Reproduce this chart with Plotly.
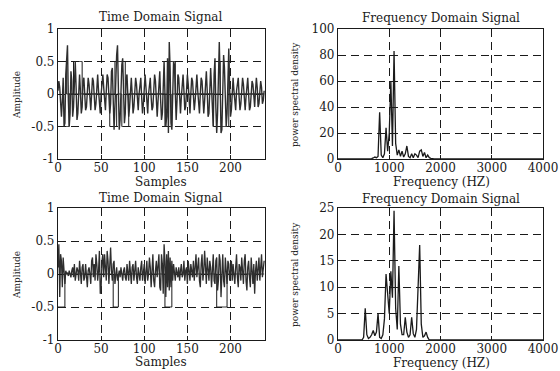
import plotly.graph_objects as go

# ---------------- data ----------------
samples_top = [
    0.05, 0.2, 0.1, -0.2, -0.35, -0.1, 0.25, -0.5,
    -0.45, 0.3, 0.6, 0.75, -0.1, -0.5, -0.3, 0.35,
    0.2, -0.35, -0.2, 0.3, 0.5, 0.1, -0.4, -0.3,
    0.15, 0.3, 0.05, -0.3, -0.2, 0.2, 0.25, -0.05,
    -0.25, -0.2, 0.1, 0.25, 0.15, -0.15, -0.25, 0.0,
    0.25, 0.2, -0.05, -0.25, -0.15, 0.15, 0.3, 0.05,
    -0.2, -0.3, 0.0, 0.2, 0.3, 0.1, -0.2, -0.25,
    0.05, 0.3, 0.25, -0.1, -0.3, -0.15, 0.35, 0.4,
    -0.2, -0.55, -0.2, 0.45, 0.6, 0.75, -0.3, -0.55,
    -0.4, 0.2, 0.45, 0.55, 0.1, -0.45, -0.3, 0.25,
    0.3, -0.05, -0.35, -0.2, 0.15, 0.25, 0.0, -0.3,
    -0.2, 0.1, 0.25, 0.15, -0.15, -0.25, 0.0, 0.2,
    0.25, -0.05, -0.3, -0.15, 0.15, 0.3, 0.1, -0.2,
    -0.3, 0.0, 0.2, 0.25, -0.05, -0.25, -0.2, 0.1,
    0.3, 0.2, -0.15, -0.35, -0.1, 0.25, 0.35, -0.1,
    -0.4, -0.3, 0.3, 0.5, 0.0, -0.5, -0.35, 0.55,
    -0.6, 0.8, 0.4, -0.45, -0.55, 0.2, 0.5, 0.45,
    -0.2, -0.4, -0.1, 0.3, 0.25, -0.15, -0.3, -0.05,
    0.2, 0.3, 0.05, -0.25, -0.2, 0.1, 0.3, 0.15,
    -0.2, -0.3, 0.0, 0.25, 0.2, -0.1, -0.25, -0.1,
    0.2, 0.3, 0.05, -0.2, -0.3, 0.0, 0.25, 0.2,
    -0.15, -0.3, -0.1, 0.2, 0.35, 0.05, -0.35, -0.3,
    0.2, 0.4, 0.1, -0.4, -0.5, 0.3, 0.55, -0.2,
    -0.6, -0.3, 0.5, 0.8, 0.2, -0.6, -0.55, 0.3,
    0.6, 0.4, -0.3, -0.5, -0.3, 0.3, 0.7, 0.1,
    -0.35, -0.25, 0.15, 0.25, 0.05, -0.2, -0.25, 0.05,
    0.2, 0.25, -0.05, -0.25, -0.15, 0.1, 0.25, 0.15,
    -0.15, -0.25, -0.05, 0.2, 0.25, 0.0, -0.25, -0.2,
    0.1, 0.2, 0.15, -0.15, -0.2, 0.05, 0.25, 0.1,
    -0.2, -0.15, 0.1, 0.2, 0.1, -0.15, -0.1, 0.05,
]

samples_bottom = [
    0.1, 0.45, -0.35, 0.3, 0.2, -0.2, 0.25, 0.05,
    -0.15, 0.05, 0.0, 0.02, -0.03, 0.05, 0.0, -0.05,
    0.05, 0.1, -0.05, 0.15, -0.1, 0.0, 0.1, 0.05,
    -0.1, 0.2, -0.05, -0.15, 0.1, 0.15, -0.1, -0.05,
    0.15, -0.1, -0.2, 0.05, 0.1, 0.0, -0.15, 0.2,
    0.25, -0.05, 0.15, -0.1, 0.3, 0.15, -0.1, 0.05,
    0.35, -0.3, -0.2, 0.2, 0.3, -0.05, 0.3, 0.1,
    -0.1, 0.35, 0.2, -0.15, 0.1, 0.4, 0.05, -0.1,
    0.15, 0.2, -0.15, -0.05, 0.1, -0.1, 0.0, 0.05,
    -0.05, 0.1, 0.0, -0.1, 0.05, 0.1, -0.05, -0.1,
    0.15, 0.05, -0.1, 0.2, -0.05, -0.15, 0.1, 0.15,
    -0.1, 0.05, 0.2, -0.05, -0.15, 0.1, 0.0, -0.1,
    0.1, 0.2, -0.1, 0.0, 0.15, -0.15, 0.05, 0.2,
    -0.1, 0.0, 0.25, 0.1, -0.2, 0.15, 0.3, -0.1,
    -0.2, 0.05, 0.2, -0.05, 0.1, 0.3, -0.2, -0.25,
    0.3, 0.15, -0.3, 0.45, 0.2, -0.35, 0.3, -0.2,
    0.35, -0.25, 0.25, -0.2, 0.2, -0.1, 0.15, 0.05,
    -0.1, 0.1, 0.0, -0.05, 0.1, -0.1, 0.05, 0.15,
    -0.05, 0.0, 0.2, -0.1, 0.05, 0.1, -0.15, 0.2,
    0.05, -0.1, 0.15, 0.0, -0.05, 0.2, -0.1, 0.1,
    0.3, -0.05, 0.1, 0.25, -0.1, -0.2, 0.15, 0.3,
    -0.1, 0.05, 0.35, 0.1, -0.15, 0.25, 0.0, -0.1,
    0.2, 0.1, -0.2, 0.15, 0.3, -0.1, -0.15, 0.2,
    0.25, -0.25, -0.1, 0.3, 0.2, -0.35, 0.15, 0.3,
    -0.1, -0.2, 0.25, 0.1, -0.15, 0.2, 0.15, -0.1,
    0.05, 0.2, -0.1, 0.15, 0.0, -0.15, 0.1, 0.3,
    -0.05, -0.2, 0.15, 0.1, -0.1, 0.25, 0.05, -0.15,
    0.2, 0.3, -0.1, -0.25, 0.1, 0.2, -0.05, -0.2,
    0.25, 0.1, -0.15, 0.15, -0.3, 0.05, 0.2, -0.1,
    0.1, 0.25, -0.1, 0.05, 0.3, -0.05, 0.1, 0.2,
]

# pulse (gate) windows drawn as dark step lines, in samples
top_pos_start = [0, 18, 66, 128, 188]
top_pos_end = [10, 28, 78, 136, 198]
top_neg_start = [0, 60, 74, 124, 180]
top_neg_end = [13, 68, 82, 132, 198]
bot_neg_start = [0, 64, 124, 184]
bot_neg_end = [8, 70, 132, 196]
pulse_level = 0.5

# spectra: bins of 31.25 Hz
bin_hz = 31.25
psd_top = [0] * 16 + [
    0.2, 0.3, 0.2, 0.4, 0.5, 0.3, 0.8, 1.5, 1, 2,
    36, 3, 1, 4, 24, 6, 20, 60, 10, 83,
    12, 3, 7, 2, 6, 1.5, 4, 10, 2, 1,
    4, 1, 4, 3, 1, 6, 7, 2, 5, 1,
    3, 1, 0.5,
] + [0] * 70
psd_bottom = [0] * 16 + [
    0.5, 6, 1, 0.3, 0.5, 1, 1.8, 0.8, 1.5, 5,
    0.5, 0.3, 1, 4, 12.5, 9, 5, 13, 8, 24.5,
    6, 2, 14, 3, 1, 1, 4.3, 1.5, 0.5, 1,
    4.3, 1.2, 0.5, 2, 10, 18, 3, 0.5, 0.8, 1.5,
    0.5,
] + [0] * 72

time_ticks = [0, 50, 100, 150, 200]
amp_ticks = [-1, -0.5, 0, 0.5, 1]
amp_labels = ["-1", "-0.5", "0", "0.5", "1"]
freq_ticks = [0, 1000, 2000, 3000, 4000]
psd_top_ticks = [0, 20, 40, 60, 80, 100]
psd_bot_ticks = [0, 5, 10, 15, 20, 25]

title_time = "Time Domain Signal"
title_freq = "Frequency Domain Signal"
label_time = "Samples"
label_freq = "Frequency (HZ)"
label_amp = "Amplitude"
label_psd = "power spectral density"

# ---------------- build ----------------
def pulses(n, starts, ends, level):
    out = []
    for i in range(n):
        v = 0.0
        for s, e in zip(starts, ends):
            if s <= i < e:
                v = level
        out.append(v)
    return out

n = len(samples_top)
t = list(range(n))
freqs = [k * bin_hz for k in range(len(psd_top))]

INK = "#1a1a1a"
SIG = "#2e2e2e"
FONT = "DejaVu Serif"
DASH = "8px,5px"

fig = go.Figure()

def add(x, y, xa, ya, color, width, shape="linear"):
    fig.add_trace(go.Scatter(x=x, y=y, xaxis=xa, yaxis=ya, mode="lines",
                             line=dict(color=color, width=width, shape=shape),
                             showlegend=False, hoverinfo="skip"))

add(t, pulses(n, top_pos_start, top_pos_end, pulse_level), "x", "y", INK, 1.0, "hv")
add(t, pulses(n, top_neg_start, top_neg_end, -pulse_level), "x", "y", INK, 1.0, "hv")
add(t, samples_top, "x", "y", SIG, 1.4)
add(freqs, psd_top, "x2", "y2", INK, 1.3)
add(t, pulses(n, bot_neg_start, bot_neg_end, -pulse_level), "x3", "y3", INK, 1.0, "hv")
add(t, samples_bottom, "x3", "y3", SIG, 1.3)
add(freqs, psd_bottom, "x4", "y4", INK, 1.3)

W, H = 560, 371
LX = [58 / W, 265 / W]
RX = [338 / W, 543 / W]
TY = [1 - 159 / H, 1 - 29 / H]
BY = [1 - 340 / H, 1 - 208 / H]

def common(dom, rng, ticks, anchor):
    return dict(domain=dom, range=rng, tickvals=ticks, anchor=anchor, automargin=False,
                showline=True, mirror=True, linecolor=INK, linewidth=1.2,
                ticks="inside", ticklen=4, tickcolor=INK,
                showgrid=True, gridcolor=INK, griddash=DASH, gridwidth=1,
                zeroline=False, tickfont=dict(family=FONT, size=12, color=INK))

def xax(dom, rng, ticks, anchor):
    d = common(dom, rng, ticks, anchor)
    d["ticklabelstandoff"] = -3
    return d

def yax(dom, rng, ticks, anchor, labels=None):
    d = common(dom, rng, ticks, anchor)
    if labels:
        d["ticktext"] = labels
    return d

fig.update_layout(
    width=W, height=H, margin=dict(l=0, r=0, t=0, b=0, autoexpand=False),
    paper_bgcolor="white", plot_bgcolor="white",
    xaxis=xax(LX, [0, 240], time_ticks, "y"),
    yaxis=yax(TY, [-1, 1], amp_ticks, "x", amp_labels),
    xaxis2=xax(RX, [0, 4000], freq_ticks, "y2"),
    yaxis2=yax(TY, [0, 100], psd_top_ticks, "x2"),
    xaxis3=xax(LX, [0, 240], time_ticks, "y3"),
    yaxis3=yax(BY, [-1, 1], amp_ticks, "x3", amp_labels),
    xaxis4=xax(RX, [0, 4000], freq_ticks, "y4"),
    yaxis4=yax(BY, [0, 25], psd_bot_ticks, "x4"),
)

def note(x, y, txt, size, angle=0):
    fig.add_annotation(x=x / W, y=1 - y / H, xref="paper", yref="paper",
                       text=txt, showarrow=False, xanchor="center", yanchor="middle",
                       textangle=angle, font=dict(family=FONT, size=size, color=INK))

note(161, 17, title_time, 12)
note(441, 18, title_freq, 12)
note(161, 198, title_time, 12)
note(441, 199, title_freq, 12)
note(161, 182, label_time, 12)
note(161, 362, label_time, 12)
note(441, 182, label_freq, 12)
note(441, 363, label_freq, 12)
note(17, 95, label_amp, 9, -90)
note(17, 275, label_amp, 9, -90)
note(295, 95, label_psd, 9, -90)
note(295, 275, label_psd, 9, -90)

fig.write_html("out.html", config={"displayModeBar": False},
               post_script="document.body.style.margin='0px';document.body.style.overflow='hidden';")
